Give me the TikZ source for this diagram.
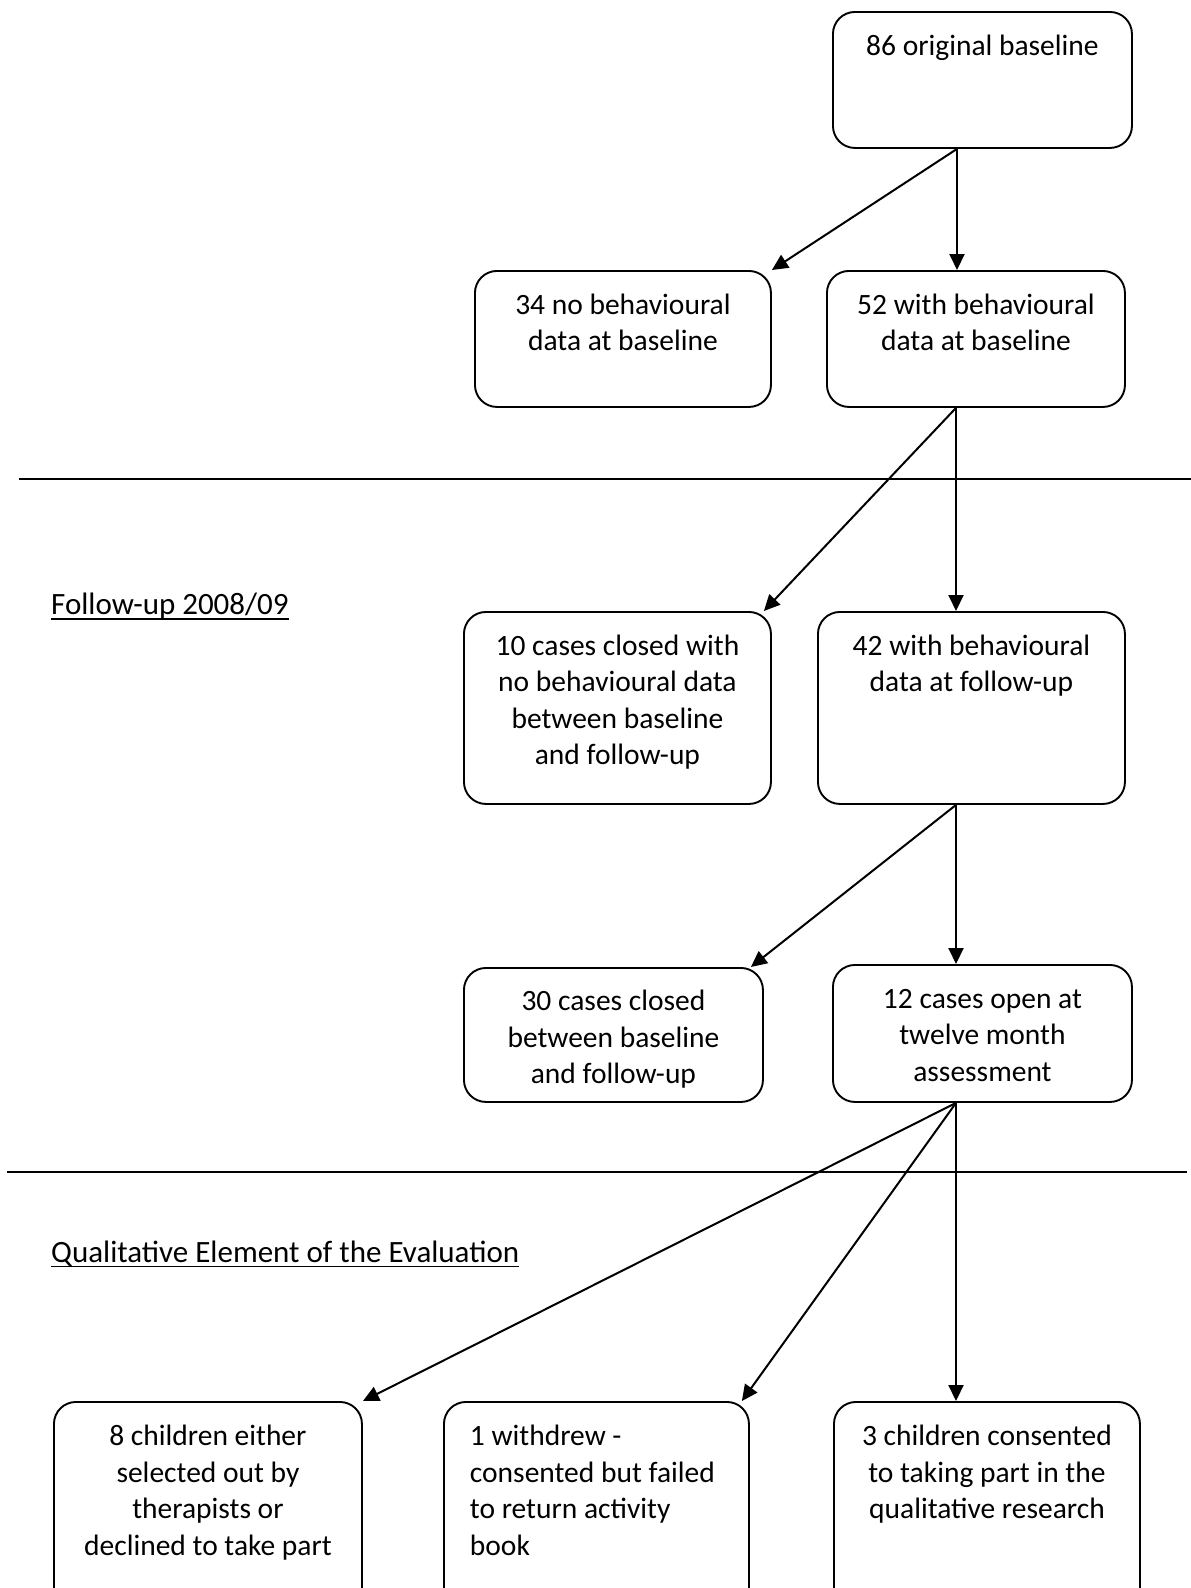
\documentclass[tikz,border=0pt]{standalone}
\usepackage{fontspec}
\setmainfont{Carlito}
\usetikzlibrary{arrows.meta}
\newcommand\boxtext[4]{\parbox[c][#2][t]{#1}{\vspace*{#3}#4}}
\begin{document}
\begin{tikzpicture}[x=1pt,y=-1pt,
  every node/.style={font=\fontsize{29.5}{36.5}\selectfont},
  flowbox/.style={draw, line width=1.9pt, rounded corners=22pt, inner sep=0pt, anchor=north west},
  arr/.style={line width=2pt, -{Triangle[length=16pt,width=15pt]}},
  rule/.style={line width=2pt},
  seclabel/.style={anchor=base west, inner sep=0pt, font=\fontsize{31}{38}\selectfont},
  uline/.style={line width=1.6pt}]
\clip (0,0) rectangle (1191,1588);
\fill[white] (0,0) rectangle (1191,1588);

% boxes
\node[flowbox] (b1) at (832,11) {\boxtext{299pt}{136pt}{17.5pt}{\centering\strut 86 original baseline\par}};
\node[flowbox] (b2) at (474,270) {\boxtext{296pt}{136pt}{17.5pt}{\centering\strut 34 no behavioural\\data at baseline\par}};
\node[flowbox] (b3) at (826,270) {\boxtext{298pt}{136pt}{17.5pt}{\centering\strut 52 with behavioural\\data at baseline\par}};
\node[flowbox] (b4) at (463,611) {\boxtext{307pt}{192pt}{17.5pt}{\centering\strut 10 cases closed with\\no behavioural data\\between baseline\\and follow-up\par}};
\node[flowbox] (b5) at (817,611) {\boxtext{307pt}{192pt}{17.5pt}{\centering\strut 42 with behavioural\\data at follow-up\par}};
\node[flowbox] (b6) at (463,967) {\boxtext{299pt}{134pt}{17pt}{\centering\strut 30 cases closed\\between baseline\\and follow-up\par}};
\node[flowbox] (b7) at (832,964) {\boxtext{299pt}{137pt}{17.5pt}{\centering\strut 12 cases open at\\twelve month\\assessment\par}};
\node[flowbox] (b8) at (53,1401) {\boxtext{308pt}{240pt}{18pt}{\centering\strut 8 children either\\selected out by\\therapists or\\declined to take part\par}};
\node[flowbox] (b9) at (443,1401) {\boxtext{305pt}{240pt}{18pt}{\raggedright\leftskip=26pt\strut 1 withdrew -\\consented but failed\\to return activity\\book\par}};
\node[flowbox] (b10) at (833,1401) {\boxtext{306pt}{240pt}{18pt}{\centering\strut 3 children consented\\to taking part in the\\qualitative research\par}};

% section rules and labels
\draw[rule] (19,479) -- (1191,479);
\draw[rule] (7,1172) -- (1187,1172);
\node[seclabel] (fu) at (51,614) {Follow-up 2008/09};
\draw[uline] ([yshift=-5pt]fu.base west) -- ([yshift=-5pt]fu.base east);
\node[seclabel] (qe) at (51,1262) {Qualitative Element of the Evaluation};
\draw[uline] ([yshift=-4.5pt]qe.base west) -- ([yshift=-4.5pt]qe.base east);

% connector origins
\coordinate (o1) at ([xshift=125pt]b1.south west);
\coordinate (o3) at ([xshift=130pt]b3.south west);
\coordinate (o5) at ([xshift=139pt]b5.south west);
\coordinate (o7) at ([xshift=124pt]b7.south west);

% connectors
\draw[arr] (o1) -- (b2.north east);
\draw[arr] (o1) -- (o1 |- b3.north);
\draw[arr] (o3) -- ([xshift=-8pt]b4.north east);
\draw[arr] (o3) -- (o3 |- b5.north);
\draw[arr] (o5) -- ([xshift=-13pt]b6.north east);
\draw[arr] (o5) -- (o5 |- b7.north);
\draw[arr] (o7) -- (b8.north east);
\draw[arr] (o7) -- ([xshift=-8pt]b9.north east);
\draw[arr] (o7) -- (o7 |- b10.north);
\end{tikzpicture}
\end{document}
